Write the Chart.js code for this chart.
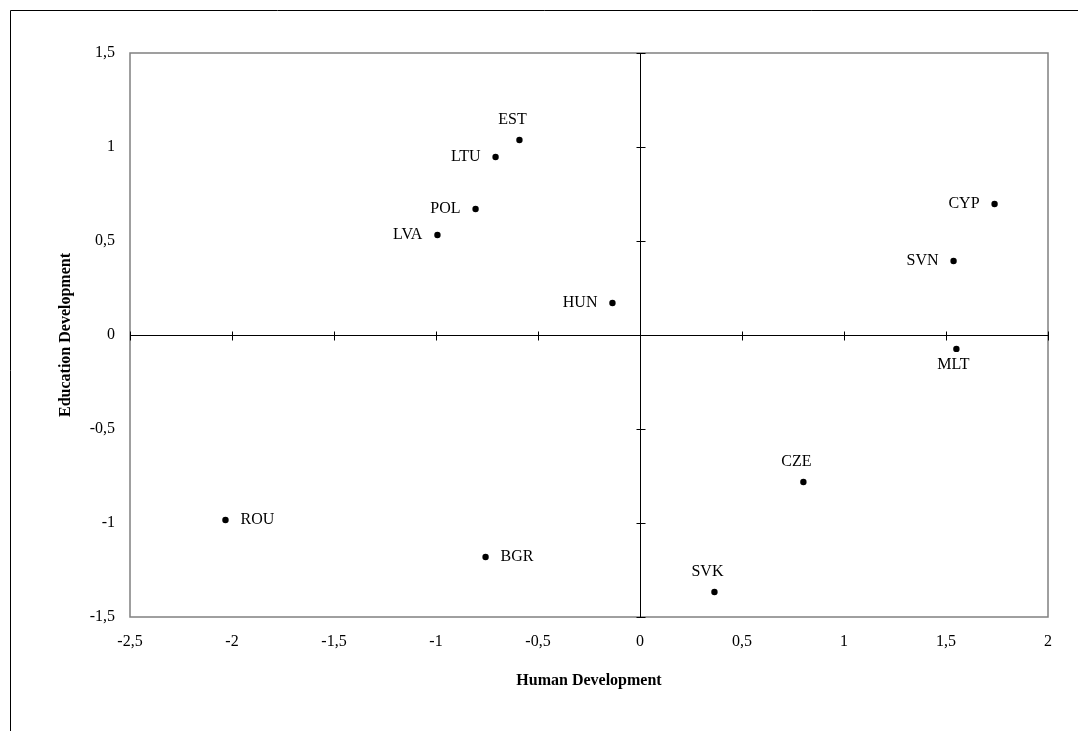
<!DOCTYPE html>
<html>
<head>
<meta charset="utf-8">
<script src="https://cdn.jsdelivr.net/npm/chart.js@4/dist/chart.umd.min.js"></script>
<style>
  html, body { margin: 0; padding: 0; background: #fff; }
  #wrap { position: relative; width: 1078px; height: 731px; }
</style>
</head>
<body>
<div id="wrap"><canvas id="chart" width="1078" height="731"></canvas></div>
<script>
// data
const countries = ['EST', 'LTU', 'POL', 'LVA', 'HUN', 'CYP', 'SVN', 'MLT', 'CZE', 'SVK', 'ROU', 'BGR'];
const humanDev = [-0.591, -0.708, -0.806, -0.993, -0.135, 1.738, 1.537, 1.551, 0.801, 0.365, -2.032, -0.757];
const educationDev = [1.037, 0.947, 0.670, 0.532, 0.170, 0.697, 0.394, -0.074, -0.782, -1.367, -0.984, -1.181];
// where each name sits next to its point
const labelSide = ['above', 'left', 'left', 'left', 'left', 'left', 'left', 'below', 'above', 'above', 'right', 'right'];

const xTicks = [-2.5, -2, -1.5, -1, -0.5, 0, 0.5, 1, 1.5, 2];
const yTicks = [-1.5, -1, -0.5, 0, 0.5, 1, 1.5];

const serif = '"Liberation Serif", "Times New Roman", serif';

function fmt(v) {
    return String(v).replace('.', ',');
}

// frame, plot border, zero axes with cross ticks, point names
const decorations = {
    id: 'decorations',
    beforeDraw(chart) {
        const c = chart.ctx;
        c.save();
        c.strokeStyle = '#000';
        c.lineWidth = 1;
        c.beginPath();
        c.moveTo(10.5, chart.height);
        c.lineTo(10.5, 10.5);
        c.lineTo(chart.width, 10.5);
        c.stroke();
        c.restore();
    },
    beforeDatasetsDraw(chart) {
        const c = chart.ctx;
        const a = chart.chartArea;
        const xs = chart.scales.x, ys = chart.scales.y;
        c.save();
        c.strokeStyle = '#808080';
        c.lineWidth = 1.5;
        c.strokeRect(a.left, a.top, a.right - a.left, a.bottom - a.top);

        const x0 = Math.round(xs.getPixelForValue(0)) + 0.5;
        const y0 = Math.round(ys.getPixelForValue(0)) + 0.5;
        c.strokeStyle = '#000';
        c.lineWidth = 1;
        c.beginPath();
        c.moveTo(a.left, y0);
        c.lineTo(a.right, y0);
        c.moveTo(x0, a.top);
        c.lineTo(x0, a.bottom);
        xs.ticks.forEach(t => {
            const px = Math.round(xs.getPixelForValue(t.value)) + 0.5;
            c.moveTo(px, y0 - 4);
            c.lineTo(px, y0 + 5);
        });
        ys.ticks.forEach(t => {
            const py = Math.round(ys.getPixelForValue(t.value)) + 0.5;
            c.moveTo(x0 - 4, py);
            c.lineTo(x0 + 5, py);
        });
        c.stroke();
        c.restore();
    },
    afterDatasetsDraw(chart) {
        const c = chart.ctx;
        const meta = chart.getDatasetMeta(0);
        c.save();
        c.fillStyle = '#000';
        c.font = '16px ' + serif;
        c.textBaseline = 'middle';
        meta.data.forEach((pt, i) => {
            const side = labelSide[i];
            let x = pt.x, y = pt.y;
            if (side === 'left') { c.textAlign = 'right'; x -= 15; }
            else if (side === 'right') { c.textAlign = 'left'; x += 15; }
            else if (side === 'above') { c.textAlign = 'center'; x -= 7; y -= 20; }
            else { c.textAlign = 'center'; x -= 3; y += 16; }
            c.fillText(countries[i], x, y);
        });
        c.restore();
    }
};

const ctx = document.getElementById('chart').getContext('2d');
const chart = new Chart(ctx, {
    type: 'scatter',
    data: {
        datasets: [{
            label: 'Countries',
            data: humanDev.map((v, i) => ({ x: v, y: educationDev[i] })),
            pointRadius: 3.2,
            pointHoverRadius: 3.2,
            pointBackgroundColor: '#000',
            pointBorderWidth: 0
        }]
    },
    options: {
        responsive: false,
        animation: false,
        events: [],
        layout: { padding: { left: 0, top: 53, right: 30, bottom: 0 } },
        plugins: {
            legend: { display: false },
            tooltip: { enabled: false }
        },
        scales: {
            x: {
                type: 'linear',
                min: -2.5,
                max: 2,
                afterFit(s) { s.height = 114; },
                afterBuildTicks(s) { s.ticks = xTicks.map(v => ({ value: v })); },
                grid: { display: false, drawTicks: false },
                border: { display: false },
                ticks: {
                    color: '#000',
                    padding: 15,
                    maxRotation: 0,
                    font: { family: serif, size: 16 },
                    callback: v => fmt(v)
                },
                title: {
                    display: true,
                    text: 'Human Development',
                    color: '#000',
                    font: { family: serif, size: 16, weight: 'bold' },
                    padding: { top: 0, bottom: 41 }
                }
            },
            y: {
                type: 'linear',
                min: -1.5,
                max: 1.5,
                afterFit(s) { s.width = 130; },
                afterBuildTicks(s) { s.ticks = yTicks.map(v => ({ value: v })); },
                grid: { display: false, drawTicks: false },
                border: { display: false },
                ticks: {
                    color: '#000',
                    padding: 15,
                    font: { family: serif, size: 16 },
                    callback: v => fmt(v)
                },
                title: {
                    display: true,
                    text: 'Education Development',
                    color: '#000',
                    font: { family: serif, size: 16, weight: 'bold' },
                    padding: { top: 56, bottom: 0 }
                }
            }
        }
    },
    plugins: [decorations]
});
</script>
</body>
</html>
